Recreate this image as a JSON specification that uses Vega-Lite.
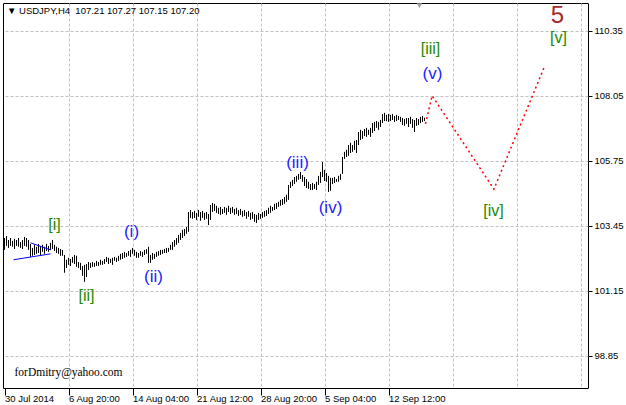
{
  "$schema": "https://vega.github.io/schema/vega-lite/v6.json",
  "autosize": "none",
  "width": 585,
  "height": 385,
  "padding": {"left": 3, "top": 3, "right": 38, "bottom": 17},
  "background": "white",
  "config": {
    "view": {"stroke": "#000000", "strokeWidth": 1},
    "axis": {"labelFont": "Liberation Sans", "labelFontSize": 9.5, "labelColor": "#000000", "gridColor": "#c0c0c0", "gridDash": [3, 2], "gridWidth": 1, "tickColor": "#000000", "domain": false}
  },
  "datasets": {
    "bars": [
      {"i":0,"h":103.01,"l":102.59},{"i":1,"h":103.08,"l":102.73},{"i":2,"h":102.94,"l":102.66},{"i":3,"h":103.01,"l":102.73},{"i":4,"h":102.91,"l":102.70},
      {"i":5,"h":102.98,"l":102.62},{"i":6,"h":102.94,"l":102.73},{"i":7,"h":103.01,"l":102.70},{"i":8,"h":102.87,"l":102.66},{"i":9,"h":102.94,"l":102.62},
      {"i":10,"h":103.05,"l":102.73},{"i":11,"h":103.01,"l":102.70},{"i":12,"h":102.94,"l":102.59},{"i":13,"h":102.80,"l":102.34},{"i":14,"h":102.66,"l":102.38},
      {"i":15,"h":102.77,"l":102.41},{"i":16,"h":102.70,"l":102.45},{"i":17,"h":102.80,"l":102.48},{"i":18,"h":102.73,"l":102.41},{"i":19,"h":102.77,"l":102.52},
      {"i":20,"h":102.70,"l":102.45},{"i":21,"h":102.80,"l":102.55},{"i":22,"h":102.73,"l":102.52},{"i":23,"h":102.84,"l":102.59},{"i":24,"h":102.94,"l":102.62},
      {"i":25,"h":102.77,"l":102.55},{"i":26,"h":102.70,"l":102.48},{"i":27,"h":102.66,"l":102.45},{"i":28,"h":102.62,"l":102.38},{"i":29,"h":102.59,"l":102.38},
      {"i":30,"h":102.41,"l":101.78},{"i":31,"h":102.24,"l":101.95},{"i":32,"h":102.31,"l":102.06},{"i":33,"h":102.27,"l":102.02},{"i":34,"h":102.34,"l":102.13},
      {"i":35,"h":102.41,"l":102.09},{"i":36,"h":102.38,"l":101.99},{"i":37,"h":102.16,"l":101.95},{"i":38,"h":102.13,"l":101.88},{"i":39,"h":102.02,"l":101.67},
      {"i":40,"h":102.06,"l":101.46},{"i":41,"h":102.09,"l":101.63},{"i":42,"h":102.16,"l":101.88},{"i":43,"h":102.13,"l":101.95},{"i":44,"h":102.16,"l":101.99},
      {"i":45,"h":102.13,"l":101.99},{"i":46,"h":102.20,"l":102.02},{"i":47,"h":102.16,"l":102.02},{"i":48,"h":102.24,"l":102.06},{"i":49,"h":102.20,"l":102.06},
      {"i":50,"h":102.27,"l":102.09},{"i":51,"h":102.34,"l":102.16},{"i":52,"h":102.31,"l":102.09},{"i":53,"h":102.27,"l":102.13},{"i":54,"h":102.31,"l":102.06},
      {"i":55,"h":102.34,"l":102.20},{"i":56,"h":102.31,"l":102.16},{"i":57,"h":102.38,"l":102.20},{"i":58,"h":102.45,"l":102.24},{"i":59,"h":102.48,"l":102.27},
      {"i":60,"h":102.52,"l":102.31},{"i":61,"h":102.48,"l":102.34},{"i":62,"h":102.55,"l":102.38},{"i":63,"h":102.59,"l":102.34},{"i":64,"h":102.66,"l":102.45},
      {"i":65,"h":102.59,"l":102.38},{"i":66,"h":102.52,"l":102.31},{"i":67,"h":102.48,"l":102.31},{"i":68,"h":102.55,"l":102.38},{"i":69,"h":102.52,"l":102.34},
      {"i":70,"h":102.59,"l":102.41},{"i":71,"h":102.62,"l":102.45},{"i":72,"h":102.70,"l":102.13},{"i":73,"h":102.41,"l":102.13},{"i":74,"h":102.48,"l":102.24},
      {"i":75,"h":102.45,"l":102.27},{"i":76,"h":102.52,"l":102.34},{"i":77,"h":102.55,"l":102.38},{"i":78,"h":102.59,"l":102.41},{"i":79,"h":102.59,"l":102.45},
      {"i":80,"h":102.62,"l":102.48},{"i":81,"h":102.66,"l":102.48},{"i":82,"h":102.66,"l":102.52},{"i":83,"h":102.77,"l":102.59},{"i":84,"h":102.87,"l":102.59},
      {"i":85,"h":102.94,"l":102.70},{"i":86,"h":103.01,"l":102.77},{"i":87,"h":103.12,"l":102.84},{"i":88,"h":103.19,"l":102.94},{"i":89,"h":103.30,"l":103.01},
      {"i":90,"h":103.33,"l":103.08},{"i":91,"h":103.40,"l":103.16},{"i":92,"h":103.93,"l":103.23},{"i":93,"h":104.00,"l":103.72},{"i":94,"h":103.93,"l":103.69},
      {"i":95,"h":103.97,"l":103.72},{"i":96,"h":103.90,"l":103.65},{"i":97,"h":104.00,"l":103.76},{"i":98,"h":103.93,"l":103.62},{"i":99,"h":103.97,"l":103.72},
      {"i":100,"h":103.90,"l":103.65},{"i":101,"h":103.93,"l":103.69},{"i":102,"h":103.86,"l":103.47},{"i":103,"h":104.18,"l":103.65},{"i":104,"h":104.25,"l":103.93},
      {"i":105,"h":104.22,"l":103.97},{"i":106,"h":104.15,"l":103.90},{"i":107,"h":104.08,"l":103.86},{"i":108,"h":104.11,"l":103.83},{"i":109,"h":104.04,"l":103.86},
      {"i":110,"h":104.11,"l":103.90},{"i":111,"h":104.08,"l":103.83},{"i":112,"h":104.15,"l":103.93},{"i":113,"h":104.08,"l":103.86},{"i":114,"h":104.11,"l":103.90},
      {"i":115,"h":104.04,"l":103.83},{"i":116,"h":104.08,"l":103.86},{"i":117,"h":104.00,"l":103.79},{"i":118,"h":104.04,"l":103.83},{"i":119,"h":103.97,"l":103.76},
      {"i":120,"h":104.00,"l":103.79},{"i":121,"h":103.93,"l":103.69},{"i":122,"h":103.97,"l":103.76},{"i":123,"h":103.90,"l":103.65},{"i":124,"h":103.93,"l":103.69},
      {"i":125,"h":103.86,"l":103.58},{"i":126,"h":103.83,"l":103.54},{"i":127,"h":103.90,"l":103.65},{"i":128,"h":103.86,"l":103.69},{"i":129,"h":103.93,"l":103.72},
      {"i":130,"h":103.97,"l":103.76},{"i":131,"h":104.00,"l":103.79},{"i":132,"h":104.08,"l":103.86},{"i":133,"h":104.15,"l":103.90},{"i":134,"h":104.11,"l":103.97},
      {"i":135,"h":104.22,"l":104.00},{"i":136,"h":104.25,"l":104.04},{"i":137,"h":104.29,"l":104.11},{"i":138,"h":104.36,"l":104.15},{"i":139,"h":104.39,"l":104.18},
      {"i":140,"h":104.46,"l":104.22},{"i":141,"h":104.54,"l":104.29},{"i":142,"h":104.89,"l":104.36},{"i":143,"h":105.00,"l":104.78},{"i":144,"h":105.07,"l":104.85},
      {"i":145,"h":105.17,"l":104.92},{"i":146,"h":105.21,"l":105.00},{"i":147,"h":105.28,"l":105.07},{"i":148,"h":105.35,"l":105.10},{"i":149,"h":105.24,"l":105.00},
      {"i":150,"h":105.17,"l":104.85},{"i":151,"h":105.10,"l":104.78},{"i":152,"h":105.00,"l":104.75},{"i":153,"h":104.92,"l":104.71},{"i":154,"h":104.96,"l":104.71},
      {"i":155,"h":104.92,"l":104.75},{"i":156,"h":105.00,"l":104.71},{"i":157,"h":105.21,"l":104.89},{"i":158,"h":105.35,"l":104.96},{"i":159,"h":105.70,"l":105.17},
      {"i":160,"h":105.42,"l":105.03},{"i":161,"h":105.31,"l":105.00},{"i":162,"h":105.21,"l":104.64},{"i":163,"h":105.14,"l":104.68},{"i":164,"h":105.14,"l":104.92},
      {"i":165,"h":105.17,"l":104.96},{"i":166,"h":105.10,"l":105.00},{"i":167,"h":105.21,"l":105.00},{"i":168,"h":105.28,"l":105.07},{"i":169,"h":105.88,"l":105.28},
      {"i":170,"h":106.06,"l":105.81},{"i":171,"h":106.13,"l":105.88},{"i":172,"h":106.30,"l":105.92},{"i":173,"h":106.38,"l":106.02},{"i":174,"h":106.30,"l":106.06},
      {"i":175,"h":106.45,"l":106.13},{"i":176,"h":106.48,"l":106.02},{"i":177,"h":106.76,"l":106.30},{"i":178,"h":106.84,"l":106.48},{"i":179,"h":106.80,"l":106.52},
      {"i":180,"h":106.87,"l":106.62},{"i":181,"h":106.91,"l":106.59},{"i":182,"h":106.84,"l":106.66},{"i":183,"h":106.91,"l":106.59},{"i":184,"h":107.08,"l":106.73},
      {"i":185,"h":107.12,"l":106.80},{"i":186,"h":107.15,"l":106.91},{"i":187,"h":107.12,"l":106.84},{"i":188,"h":107.19,"l":106.94},{"i":189,"h":107.40,"l":107.08},
      {"i":190,"h":107.44,"l":107.15},{"i":191,"h":107.37,"l":107.15},{"i":192,"h":107.40,"l":107.12},{"i":193,"h":107.37,"l":107.15},{"i":194,"h":107.40,"l":107.19},
      {"i":195,"h":107.33,"l":107.12},{"i":196,"h":107.37,"l":107.15},{"i":197,"h":107.33,"l":107.19},{"i":198,"h":107.30,"l":107.12},{"i":199,"h":107.26,"l":107.01},
      {"i":200,"h":107.22,"l":106.98},{"i":201,"h":107.26,"l":107.05},{"i":202,"h":107.26,"l":106.94},{"i":203,"h":107.30,"l":107.05},{"i":204,"h":107.22,"l":106.91},
      {"i":205,"h":107.19,"l":106.76},{"i":206,"h":107.26,"l":106.98},{"i":207,"h":107.22,"l":107.01},{"i":208,"h":107.30,"l":107.08},{"i":209,"h":107.33,"l":107.12},
      {"i":210,"h":107.27,"l":107.15}
    ],
    "triangle": [
      {"g":"top","i":13,"v":102.84},{"g":"top","i":23,"v":102.59},
      {"g":"bottom","i":4.5,"v":102.24},{"g":"bottom","i":23,"v":102.45}
    ],
    "forecast": [
      {"i":210.5,"v":107.05},{"i":213.8,"v":108.05},{"i":244.7,"v":104.74},{"i":270,"v":109.08}
    ],
    "waves": [
      {"t":"[i]","deg":"minor","i":25,"v":103.47},
      {"t":"[ii]","deg":"minor","i":41,"v":100.96},
      {"t":"(i)","deg":"minute","i":63.5,"v":103.23},
      {"t":"(ii)","deg":"minute","i":74.5,"v":101.63},
      {"t":"(iii)","deg":"minute","i":146.5,"v":105.67},
      {"t":"(iv)","deg":"minute","i":163,"v":104.08},
      {"t":"[iii]","deg":"minor","i":213,"v":109.70},
      {"t":"(v)","deg":"minute","i":214,"v":108.82},
      {"t":"[iv]","deg":"minor","i":244.5,"v":103.97},
      {"t":"[v]","deg":"minor","i":277,"v":110.09},
      {"t":"5","deg":"intermediate","i":276.5,"v":110.87}
    ],
    "header": [{"t":"▼ USDJPY,H4\u00a0 107.21 107.27 107.15 107.20","i":1.25,"v":110.94}],
    "note": [{"t":"forDmitry@yahoo.com","i":5,"v":98.24}],
    "shift": [{"i":207.5,"v":111.24}]
  },
  "layer": [
    {
      "data": {"name": "bars"},
      "mark": {"type": "rule", "color": "#000000", "strokeWidth": 1},
      "encoding": {
        "x": {"field": "i", "type": "quantitative", "title": null,
          "scale": {"domain": [-0.75, 291.75], "nice": false, "zero": false},
          "axis": {"orient": "bottom", "values": [0,16,32,48,64,80,96,112,128,144,160,176,192,208,224,240,256,272,288],
            "grid": true, "gridOpacity": {"condition": {"test": "datum.value == 0", "value": 0}, "value": 1},
            "ticks": true, "tickSize": 7, "tickOpacity": {"condition": {"test": "datum.value % 32 == 0 && datum.value <= 192", "value": 1}, "value": 0},
            "labelAlign": "left", "labelBaseline": "top", "labelPadding": -2, "labelDx": 1, "labelOverlap": false, "labelFlush": false,
            "labelExpr": "datum.value==0?'30 Jul 2014':datum.value==32?'6 Aug 20:00':datum.value==64?'14 Aug 04:00':datum.value==96?'21 Aug 12:00':datum.value==128?'28 Aug 20:00':datum.value==160?'5 Sep 04:00':datum.value==192?'12 Sep 12:00':''"}},
        "y": {"field": "l", "type": "quantitative", "title": null,
          "scale": {"domain": [97.70, 111.33], "nice": false, "zero": false},
          "axis": {"orient": "right", "values": [98.85,100.00,101.15,102.30,103.45,104.60,105.75,106.90,108.05,109.20,110.35], "format": ".2f",
            "grid": true, "tickSize": 4, "labelPadding": 2, "labelOverlap": false, "labelFlush": false}},
        "y2": {"field": "h"}
      }
    },
    {
      "data": {"name": "triangle"},
      "mark": {"type": "line", "color": "#0000ff", "strokeWidth": 1},
      "encoding": {
        "x": {"field": "i", "type": "quantitative", "title": null, "scale": {"domain": [-0.75, 291.75], "nice": false, "zero": false}},
        "y": {"field": "v", "type": "quantitative", "title": null, "scale": {"domain": [97.70, 111.33], "nice": false, "zero": false}},
        "detail": {"field": "g"}
      }
    },
    {
      "data": {"name": "forecast"},
      "mark": {"type": "line", "color": "#ff0000", "strokeWidth": 1.5, "strokeDash": [2, 3]},
      "encoding": {
        "x": {"field": "i", "type": "quantitative", "title": null, "scale": {"domain": [-0.75, 291.75], "nice": false, "zero": false}},
        "y": {"field": "v", "type": "quantitative", "title": null, "scale": {"domain": [97.70, 111.33], "nice": false, "zero": false}}
      }
    },
    {
      "data": {"name": "waves"},
      "transform": [{"filter": "datum.deg == 'minute'"}],
      "mark": {"type": "text", "color": "#2222ff", "font": "Liberation Sans", "fontSize": 17, "align": "center", "baseline": "middle"},
      "encoding": {
        "x": {"field": "i", "type": "quantitative", "title": null, "scale": {"domain": [-0.75, 291.75], "nice": false, "zero": false}},
        "y": {"field": "v", "type": "quantitative", "title": null, "scale": {"domain": [97.70, 111.33], "nice": false, "zero": false}},
        "text": {"field": "t"}
      }
    },
    {
      "data": {"name": "waves"},
      "transform": [{"filter": "datum.deg == 'minor'"}],
      "mark": {"type": "text", "color": "#228b00", "font": "Liberation Sans", "fontSize": 16, "align": "center", "baseline": "middle"},
      "encoding": {
        "x": {"field": "i", "type": "quantitative", "title": null, "scale": {"domain": [-0.75, 291.75], "nice": false, "zero": false}},
        "y": {"field": "v", "type": "quantitative", "title": null, "scale": {"domain": [97.70, 111.33], "nice": false, "zero": false}},
        "text": {"field": "t"}
      }
    },
    {
      "data": {"name": "waves"},
      "transform": [{"filter": "datum.deg == 'intermediate'"}],
      "mark": {"type": "text", "color": "#a52a2a", "font": "Liberation Sans", "fontSize": 24, "align": "center", "baseline": "middle"},
      "encoding": {
        "x": {"field": "i", "type": "quantitative", "title": null, "scale": {"domain": [-0.75, 291.75], "nice": false, "zero": false}},
        "y": {"field": "v", "type": "quantitative", "title": null, "scale": {"domain": [97.70, 111.33], "nice": false, "zero": false}},
        "text": {"field": "t"}
      }
    },
    {
      "data": {"name": "header"},
      "mark": {"type": "text", "color": "#000000", "font": "Liberation Sans", "fontSize": 9.5, "align": "left", "baseline": "alphabetic"},
      "encoding": {
        "x": {"field": "i", "type": "quantitative", "title": null, "scale": {"domain": [-0.75, 291.75], "nice": false, "zero": false}},
        "y": {"field": "v", "type": "quantitative", "title": null, "scale": {"domain": [97.70, 111.33], "nice": false, "zero": false}},
        "text": {"field": "t"}
      }
    },
    {
      "data": {"name": "note"},
      "mark": {"type": "text", "color": "#000000", "font": "Liberation Serif", "fontSize": 11.5, "align": "left", "baseline": "middle"},
      "encoding": {
        "x": {"field": "i", "type": "quantitative", "title": null, "scale": {"domain": [-0.75, 291.75], "nice": false, "zero": false}},
        "y": {"field": "v", "type": "quantitative", "title": null, "scale": {"domain": [97.70, 111.33], "nice": false, "zero": false}},
        "text": {"field": "t"}
      }
    },
    {
      "data": {"name": "shift"},
      "mark": {"type": "point", "shape": "triangle-down", "filled": true, "color": "#a0a0a0", "size": 30, "opacity": 1},
      "encoding": {
        "x": {"field": "i", "type": "quantitative", "title": null, "scale": {"domain": [-0.75, 291.75], "nice": false, "zero": false}},
        "y": {"field": "v", "type": "quantitative", "title": null, "scale": {"domain": [97.70, 111.33], "nice": false, "zero": false}}
      }
    }
  ]
}
